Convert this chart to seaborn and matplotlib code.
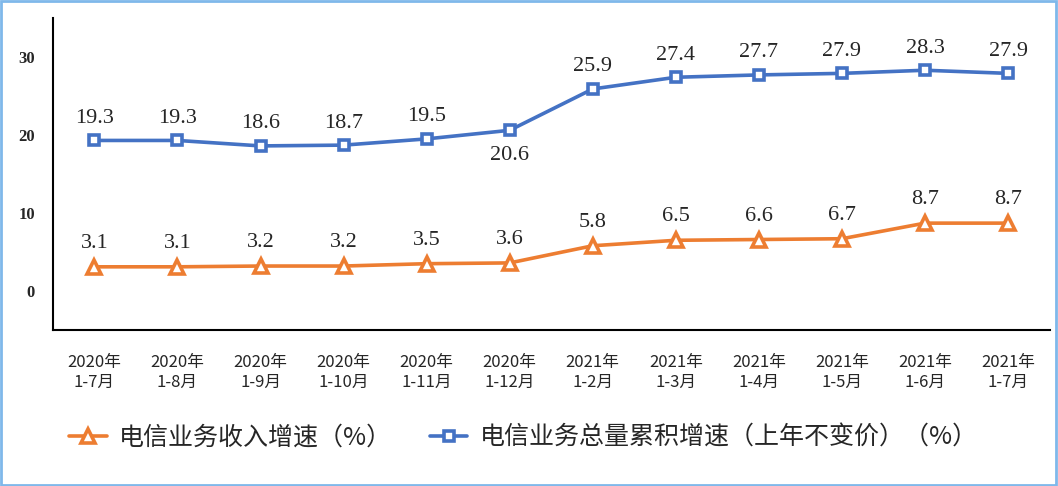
import matplotlib
matplotlib.use("Agg")
import matplotlib.pyplot as plt
import seaborn as sns
import pandas as pd
from matplotlib.patches import Rectangle

periods = ["2020年\n1-7月", "2020年\n1-8月", "2020年\n1-9月", "2020年\n1-10月",
           "2020年\n1-11月", "2020年\n1-12月", "2021年\n1-2月", "2021年\n1-3月",
           "2021年\n1-4月", "2021年\n1-5月", "2021年\n1-6月", "2021年\n1-7月"]
revenue_growth = [3.1, 3.1, 3.2, 3.2, 3.5, 3.6, 5.8, 6.5, 6.6, 6.7, 8.7, 8.7]
volume_growth = [19.3, 19.3, 18.6, 18.7, 19.5, 20.6, 25.9, 27.4, 27.7, 27.9, 28.3, 27.9]
revenue_name = "电信业务收入增速（%）"
volume_name = "电信业务总量累积增速（上年不变价）（%）"

BLUE = "#4472C4"
ORANGE = "#ED7D31"

sns.set_theme(style="white")
plt.rcParams["font.family"] = ["Noto Sans CJK SC", "DejaVu Sans"]

df = pd.DataFrame({"pos": range(len(periods)), "rev": revenue_growth, "vol": volume_growth})

fig = plt.figure(figsize=(10.58, 4.86), dpi=100)
ax = fig.add_axes([0.050, 0.321, 0.942, 0.642])

sns.lineplot(data=df, x="pos", y="rev", ax=ax, color=ORANGE, linewidth=2.6,
             marker="^", markersize=9.5, markerfacecolor="white",
             markeredgecolor=ORANGE, markeredgewidth=2.6, label=revenue_name)
sns.lineplot(data=df, x="pos", y="vol", ax=ax, color=BLUE, linewidth=2.6,
             marker="s", markersize=7, markerfacecolor="white",
             markeredgecolor=BLUE, markeredgewidth=2.6, label=volume_name)

label_font = dict(family=["Liberation Serif", "DejaVu Serif"], fontsize=16, ha="center")
for i, v in enumerate(revenue_growth):
    ax.annotate(f"{v}", (i, v), xytext=(0, 10), textcoords="offset points",
                va="bottom", **label_font)
for i, v in enumerate(volume_growth):
    if i == 5:
        ax.annotate(f"{v}", (i, v), xytext=(0, -11), textcoords="offset points",
                    va="top", **label_font)
    else:
        ax.annotate(f"{v}", (i, v), xytext=(0, 9), textcoords="offset points",
                    va="bottom", **label_font)

ax.set_xlim(-0.5, len(periods) - 0.5)
ax.set_ylim(-5, 35)
ax.set_yticks([0, 10, 20, 30])
ax.set_yticklabels(["0", "10", "20", "30"], family=["Liberation Serif"],
                   fontsize=12, fontweight="bold")
ax.set_xticks([i + 0.5 for i in range(-1, len(periods))], minor=False)
ax.set_xticklabels([""] * (len(periods) + 1))
ax.set_xticks(range(len(periods)), minor=True)
ax.set_xticklabels(periods, minor=True, fontsize=12, linespacing=1.25)
ax.tick_params(axis="x", which="major", direction="out", length=7, width=1.2, color="black")
ax.tick_params(axis="x", which="minor", length=0, pad=17)
ax.tick_params(axis="y", direction="out", length=5, width=1.2, color="black", pad=8)
ax.set_xlabel("")
ax.set_ylabel("")

for side in ["top", "right"]:
    ax.spines[side].set_visible(False)
for side in ["left", "bottom"]:
    ax.spines[side].set_color("black")
    ax.spines[side].set_linewidth(1.5)

ax.legend(loc="center", bbox_to_anchor=(0.495, 0.1), bbox_transform=fig.transFigure,
          ncol=2, frameon=False, fontsize=18, handlelength=1.5, handletextpad=0.5,
          columnspacing=1.5)

fig.patches.append(Rectangle((0.001, 0.002), 0.997, 0.995, transform=fig.transFigure,
                             fill=False, edgecolor="#7FB8EA", linewidth=2))

fig.savefig("out.png", dpi=100)
